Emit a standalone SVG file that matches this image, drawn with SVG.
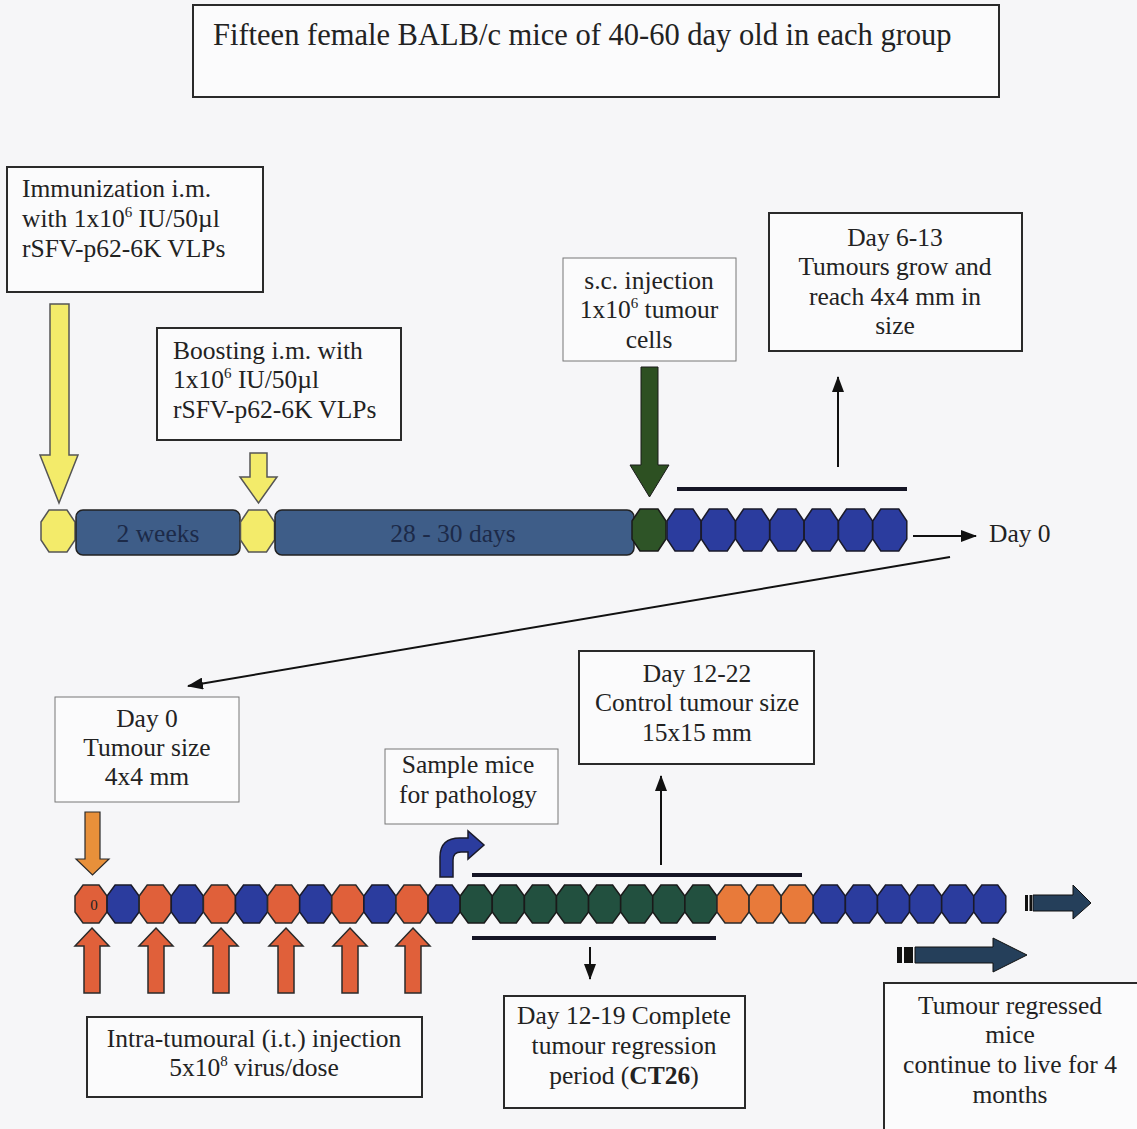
<svg xmlns="http://www.w3.org/2000/svg" width="1137" height="1129" viewBox="0 0 1137 1129">
<defs>
<style>
text{font-family:"Liberation Serif","Times New Roman",serif;fill:#222;font-size:25.5px}
.c{text-anchor:middle}
.sup{font-size:15px}
.box{fill:#fbfbfc;stroke:#2a2a2a;stroke-width:2}
.tbox{fill:#fbfbfc;stroke:#777;stroke-width:1}
.yel{fill:#f3eb6a;stroke:#555;stroke-width:1.5}
.blue{fill:#2b3c9e;stroke:#1a1a2a;stroke-width:1.5}
.grn{fill:#2e5427;stroke:#1a1a1a;stroke-width:1.5}
.dgrn{fill:#22503f;stroke:#1a1a1a;stroke-width:1.5}
.red{fill:#e0603a;stroke:#2a2a2a;stroke-width:1.5}
.org{fill:#e87a3a;stroke:#2a2a2a;stroke-width:1.5}
.bar{fill:#3e5d88;stroke:#222;stroke-width:1.5}
.bartxt{fill:#1c2a48}
.con{stroke:#111;stroke-width:2;fill:none}
.brk{stroke:#151525;stroke-width:4}
.slate{fill:#253f5a;stroke:#111;stroke-width:1}
</style>
<polygon id="octT" points="-17,-9 -9,-21 9,-21 17,-9 17,9 9,21 -9,21 -17,9"/>
<polygon id="octB" points="-16,-8 -8,-19 8,-19 16,-8 16,8 8,19 -8,19 -16,8"/>
<polygon id="upR" points="0,0 17,18 8,18 8,65 -8,65 -8,18 -17,18"/>
<marker id="ah" markerUnits="userSpaceOnUse" markerWidth="16" markerHeight="12" refX="15" refY="6" orient="auto">
<path d="M0,0 L16,6 L0,12 z" fill="#111"/>
</marker>
</defs>
<rect width="1137" height="1129" fill="#f6f6f8"/>

<g id="title">
<rect class="box" x="193" y="5" width="806" height="92"/>
<text x="213" y="45" style="font-size:30.5px">Fifteen female BALB/c mice of 40-60 day old in each group</text>
</g>

<g id="immunization">
<rect class="box" x="7" y="167" width="256" height="125"/>
<text x="22" y="197">Immunization i.m.</text>
<text x="22" y="227">with 1x10<tspan class="sup" dy="-10">6</tspan><tspan dy="10"> IU/50µl</tspan></text>
<text x="22" y="257">rSFV-p62-6K VLPs</text>
</g>

<g id="boosting">
<rect class="box" x="157" y="328" width="244" height="112"/>
<text x="173" y="359">Boosting i.m. with</text>
<text x="173" y="388">1x10<tspan class="sup" dy="-10">6</tspan><tspan dy="10"> IU/50µl</tspan></text>
<text x="173" y="418">rSFV-p62-6K VLPs</text>
</g>

<g id="sc-injection">
<rect class="tbox" x="563" y="258" width="173" height="103"/>
<text class="c" x="649" y="289">s.c. injection</text>
<text class="c" x="649" y="318">1x10<tspan class="sup" dy="-10">6</tspan><tspan dy="10"> tumour</tspan></text>
<text class="c" x="649" y="348">cells</text>
</g>

<g id="day6-13">
<rect class="box" x="769" y="213" width="253" height="138"/>
<text class="c" x="895" y="246">Day 6-13</text>
<text class="c" x="895" y="275">Tumours grow and</text>
<text class="c" x="895" y="305">reach 4x4 mm in</text>
<text class="c" x="895" y="334">size</text>
</g>

<g id="arrow-immunization"><polygon class="yel" points="50,304 69,304 69,455 78,455 59,503 40,455 50,455"/></g>
<g id="arrow-boost"><polygon class="yel" points="250,453 267,453 267,477 277,477 258.5,503 240,477 250,477"/></g>
<g id="arrow-sc"><polygon fill="#2d5022" stroke="#1a1a1a" stroke-width="1" points="641,367 658,367 658,465 669,465 649.5,497 630,465 641,465"/></g>

<g id="timeline-top">
<use href="#octT" class="yel" x="58" y="531"/>
<rect class="bar" x="76" y="510" width="164" height="45" rx="7"/>
<text class="c bartxt" x="158" y="542">2 weeks</text>
<use href="#octT" class="yel" x="257.5" y="531"/>
<rect class="bar" x="275" y="510" width="359" height="45" rx="7"/>
<text class="c bartxt" x="453" y="542">28 - 30 days</text>
<use href="#octT" class="grn" x="649" y="530"/>
<use href="#octT" class="blue" x="684" y="530"/>
<use href="#octT" class="blue" x="718.3" y="530"/>
<use href="#octT" class="blue" x="752.6" y="530"/>
<use href="#octT" class="blue" x="786.9" y="530"/>
<use href="#octT" class="blue" x="821.2" y="530"/>
<use href="#octT" class="blue" x="855.5" y="530"/>
<use href="#octT" class="blue" x="889.8" y="530"/>
<text x="989" y="542">Day 0</text>
</g>

<g id="day0-box">
<rect class="tbox" x="55" y="697" width="184" height="105"/>
<text class="c" x="147" y="727">Day 0</text>
<text class="c" x="147" y="756">Tumour size</text>
<text class="c" x="147" y="785">4x4 mm</text>
</g>

<g id="sample-mice">
<rect class="tbox" x="385" y="749" width="173" height="75"/>
<text class="c" x="468" y="773">Sample mice</text>
<text class="c" x="468" y="803">for pathology</text>
</g>

<g id="day12-22">
<rect class="box" x="579" y="651" width="235" height="113"/>
<text class="c" x="697" y="682">Day 12-22</text>
<text class="c" x="697" y="711">Control tumour size</text>
<text class="c" x="697" y="741">15x15 mm</text>
</g>

<g id="arrow-day0"><polygon fill="#e8903a" stroke="#2a2a2a" stroke-width="1.2" points="85,812 100,812 100,859 109,859 92.5,875 76,859 85,859"/></g>
<g id="arrow-sample"><path class="blue" d="M440,877 L440,857 Q440,838 460,838 L468,838 L468,831 L484,845 L468,859 L468,852 L461,852 Q453,852 453,860 L453,877 Z"/></g>

<g id="timeline-bottom">
<use href="#octB" class="red" x="91" y="904"/>
<text class="c" x="94" y="910" style="font-size:15px">0</text>
<use href="#octB" class="blue" x="123.1" y="904"/>
<use href="#octB" class="red" x="155.2" y="904"/>
<use href="#octB" class="blue" x="187.3" y="904"/>
<use href="#octB" class="red" x="219.4" y="904"/>
<use href="#octB" class="blue" x="251.5" y="904"/>
<use href="#octB" class="red" x="283.6" y="904"/>
<use href="#octB" class="blue" x="315.7" y="904"/>
<use href="#octB" class="red" x="347.8" y="904"/>
<use href="#octB" class="blue" x="379.9" y="904"/>
<use href="#octB" class="red" x="412" y="904"/>
<use href="#octB" class="blue" x="444.1" y="904"/>
<use href="#octB" class="dgrn" x="476.2" y="904"/>
<use href="#octB" class="dgrn" x="508.3" y="904"/>
<use href="#octB" class="dgrn" x="540.4" y="904"/>
<use href="#octB" class="dgrn" x="572.5" y="904"/>
<use href="#octB" class="dgrn" x="604.6" y="904"/>
<use href="#octB" class="dgrn" x="636.7" y="904"/>
<use href="#octB" class="dgrn" x="668.8" y="904"/>
<use href="#octB" class="dgrn" x="700.9" y="904"/>
<use href="#octB" class="org" x="733" y="904"/>
<use href="#octB" class="org" x="765.1" y="904"/>
<use href="#octB" class="org" x="797.2" y="904"/>
<use href="#octB" class="blue" x="829.3" y="904"/>
<use href="#octB" class="blue" x="861.4" y="904"/>
<use href="#octB" class="blue" x="893.5" y="904"/>
<use href="#octB" class="blue" x="925.6" y="904"/>
<use href="#octB" class="blue" x="957.7" y="904"/>
<use href="#octB" class="blue" x="989.8" y="904"/>
</g>

<g id="it-arrows">
<use href="#upR" class="red" x="92" y="928"/>
<use href="#upR" class="red" x="156" y="928"/>
<use href="#upR" class="red" x="221" y="928"/>
<use href="#upR" class="red" x="286" y="928"/>
<use href="#upR" class="red" x="350" y="928"/>
<use href="#upR" class="red" x="413" y="928"/>
</g>

<g id="continue-arrows">
<rect x="1025" y="895" width="3" height="16" fill="#111"/>
<rect x="1029.5" y="895" width="2.5" height="16" fill="#111"/>
<polygon class="slate" points="1033,895 1073,895 1073,885 1091,903 1073,919 1073,911 1033,911"/>
<rect x="897" y="947" width="5" height="16" fill="#111"/>
<rect x="904" y="947" width="9" height="16" fill="#111"/>
<polygon class="slate" points="915,947 993,947 993,938 1027,955 993,972 993,963 915,963"/>
</g>

<g id="it-box">
<rect class="box" x="87" y="1017" width="335" height="80"/>
<text class="c" x="254" y="1047">Intra-tumoural (i.t.) injection</text>
<text class="c" x="254" y="1076">5x10<tspan class="sup" dy="-10">8</tspan><tspan dy="10"> virus/dose</tspan></text>
</g>

<g id="day12-19">
<rect class="box" x="504" y="996" width="241" height="112"/>
<text class="c" x="624" y="1024">Day 12-19 Complete</text>
<text class="c" x="624" y="1054">tumour regression</text>
<text class="c" x="624" y="1084">period (<tspan font-weight="bold">CT26</tspan>)</text>
</g>

<g id="regressed">
<rect class="box" x="884" y="983" width="262" height="152"/>
<text class="c" x="1010" y="1014">Tumour regressed</text>
<text class="c" x="1010" y="1043">mice</text>
<text class="c" x="1010" y="1073">continue to live for 4</text>
<text class="c" x="1010" y="1103">months</text>
</g>

<g id="connectors">
<line class="brk" x1="677" y1="489" x2="907" y2="489"/>
<line class="brk" x1="472" y1="875" x2="802" y2="875"/>
<line class="brk" x1="472" y1="938" x2="716" y2="938"/>
<line class="con" x1="838" y1="467" x2="838" y2="377" marker-end="url(#ah)"/>
<line class="con" x1="913" y1="536" x2="976" y2="536" marker-end="url(#ah)"/>
<line class="con" x1="950" y1="557" x2="188" y2="686" marker-end="url(#ah)"/>
<line class="con" x1="661" y1="865" x2="661" y2="776" marker-end="url(#ah)"/>
<line class="con" x1="590" y1="947" x2="590" y2="979" stroke-width="1.5" marker-end="url(#ah)"/>
</g>
</svg>
